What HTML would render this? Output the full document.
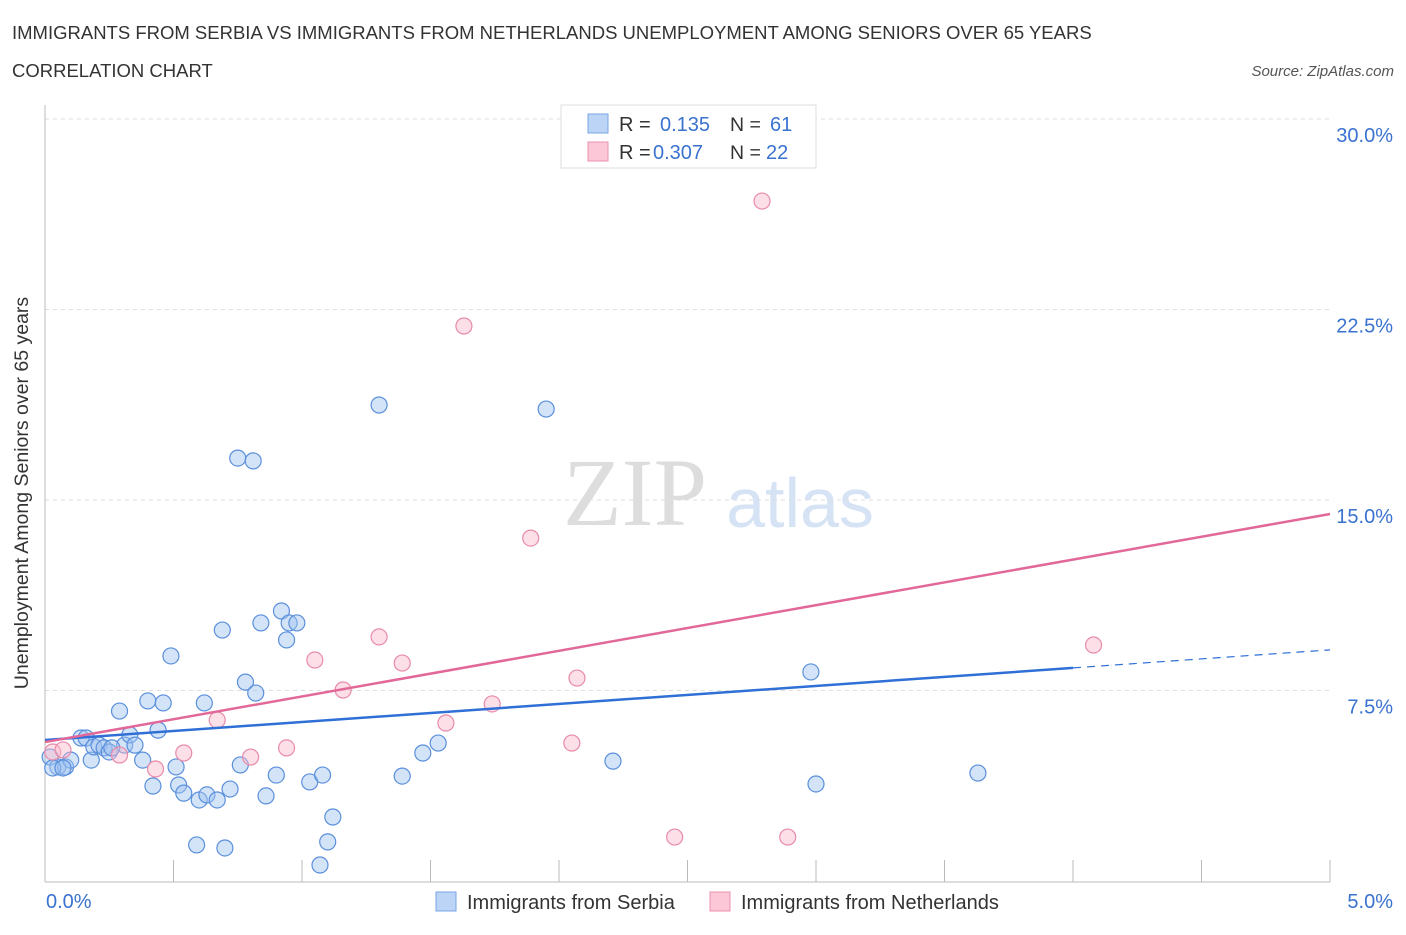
<!DOCTYPE html>
<html><head><meta charset="utf-8"><style>
body{margin:0;background:#fff;font-family:"Liberation Sans",sans-serif;}
</style></head><body>
<svg id="c" width="1406" height="930" xmlns="http://www.w3.org/2000/svg">
<text x="12" y="39" font-size="18.5" fill="#333">IMMIGRANTS FROM SERBIA VS IMMIGRANTS FROM NETHERLANDS UNEMPLOYMENT AMONG SENIORS OVER 65 YEARS</text>
<text x="12" y="77" font-size="18.5" fill="#333">CORRELATION CHART</text>
<text x="1394" y="76" font-size="15" fill="#555" font-style="italic" text-anchor="end">Source: ZipAtlas.com</text>
<text x="635" y="525" font-size="96" fill="#ddd" font-family="Liberation Serif" text-anchor="middle">ZIP</text>
<text x="800" y="527" font-size="70" fill="#d5e3f5" text-anchor="middle">atlas</text>
<g id="grid"></g><g id="axes"></g><g id="pts"></g><g id="lines"></g>
<text x="28" y="493" font-size="19.5" fill="#333" text-anchor="middle" transform="rotate(-90 28 493)">Unemployment Among Seniors over 65 years</text>
<g>
<rect x="561" y="105" width="255" height="63" fill="#fff" stroke="#ddd"/>
<rect x="588" y="114" width="20" height="19" fill="#bcd4f5" stroke="#7aa6e6"/>
<rect x="588" y="142" width="20" height="19" fill="#fcc8d8" stroke="#ec90ae"/>
<text x="619" y="131" font-size="20" fill="#333">R = </text><text x="660" y="131" font-size="20" fill="#3a72d0">0.135</text>
<text x="730" y="131" font-size="19.5" fill="#333">N = </text><text x="770" y="131" font-size="20" fill="#3a72d0">61</text>
<text x="619" y="159" font-size="20" fill="#333">R = </text><text x="653" y="159" font-size="20" fill="#3a72d0">0.307</text>
<text x="730" y="159" font-size="19.5" fill="#333">N = </text><text x="766" y="159" font-size="20" fill="#3a72d0">22</text>
</g>
<g>
<rect x="436" y="892" width="20" height="19" fill="#bcd4f5" stroke="#7aa6e6"/>
<text x="467" y="909" font-size="20" fill="#333">Immigrants from Serbia</text>
<rect x="710" y="892" width="20" height="19" fill="#fcc8d8" stroke="#ec90ae"/>
<text x="741" y="909" font-size="20" fill="#333">Immigrants from Netherlands</text>
</g>
</svg>
<script>
const serbiaX=[0.02,0.05,0.08,0.10,0.14,0.16,0.18,0.19,0.21,0.23,0.25,0.29,0.31,0.33,0.35,0.38,0.40,0.42,0.44,0.46,0.49,0.51,0.52,0.54,0.59,0.60,0.62,0.63,0.67,0.69,0.70,0.72,0.76,0.75,0.78,0.81,0.82,0.84,0.86,0.90,0.92,0.94,0.95,0.98,1.03,1.08,1.10,1.12,1.07,1.30,1.39,1.47,1.53,1.95,2.21,2.98,3.00,3.63,0.03,0.07,0.26];
const serbiaY=[4.88,4.49,4.49,4.76,5.63,5.63,4.76,5.28,5.35,5.24,5.08,6.69,5.35,5.75,5.35,4.76,7.09,3.74,5.94,7.01,8.86,4.49,3.78,3.46,1.42,3.19,7.01,3.39,3.19,9.88,1.30,3.62,4.57,16.65,7.83,16.54,7.40,10.16,3.35,4.17,10.63,9.49,10.16,10.16,3.90,4.17,1.54,2.52,0.63,18.74,4.13,5.04,5.43,18.58,4.72,8.23,3.82,4.25,4.45,4.45,5.24];
const nethX=[0.03,0.07,0.29,0.43,0.54,0.67,0.80,0.94,1.05,1.16,1.30,1.39,1.56,1.63,1.74,1.89,2.05,2.07,2.45,2.79,2.89,4.08];
const nethY=[5.08,5.16,4.96,4.41,5.04,6.34,4.88,5.24,8.70,7.52,9.61,8.58,6.22,21.85,6.97,13.50,5.43,7.99,1.73,26.77,1.73,9.29];
const yTicks=[7.5,15,22.5,30];
const yTickLabels=["7.5%","15.0%","22.5%","30.0%"];
const xTicks=[0,0.5,1,1.5,2,2.5,3,3.5,4,4.5,5];
const serbiaTrend=[5.55,9.1];
const nethTrend=[5.47,14.45];
const NS='http://www.w3.org/2000/svg';
const X=v=>45+v/5*1285, Y=v=>881-v*25.4;
function mk(p,t,a){const e=document.createElementNS(NS,t);for(const k in a)e.setAttribute(k,a[k]);document.getElementById(p).appendChild(e);return e;}
yTicks.forEach((t,i)=>{
 const g=mk('grid','line',{x1:45,x2:1330,y1:Y(t),y2:Y(t),stroke:'#ddd','stroke-dasharray':'4,4'});
 
 
 const l=mk('grid','text',{x:1393,y:Y(t)+23,'font-size':20,fill:'#3a72d0','text-anchor':'end'});
 l.textContent=yTickLabels[i];
 
 
});
const ax=mk('axes','line',{x1:45,x2:1330,y1:882,y2:882,stroke:'#bbb'});


const ay=mk('axes','line',{x1:45,x2:45,y1:105,y2:882,stroke:'#bbb'});


xTicks.forEach(t=>{
 const e=mk('axes','line',{x1:X(t),x2:X(t),y1:860,y2:882,stroke:'#bbb'});
 
 
});
const xl0=mk('axes','text',{x:46,y:908,'font-size':20,fill:'#3a72d0'});xl0.textContent='0.0%';


const xl1=mk('axes','text',{x:1393,y:908,'font-size':20,fill:'#3a72d0','text-anchor':'end'});xl1.textContent='5.0%';


serbiaX.forEach((x,i)=>{
 const c=mk('pts','circle',{cx:X(x),cy:Y(serbiaY[i]),r:8,fill:'rgba(160,195,240,0.45)',stroke:'#5a8fdc','stroke-width':1.2});
 
 
});
nethX.forEach((x,i)=>{
 const c=mk('pts','circle',{cx:X(x),cy:Y(nethY[i]),r:8,fill:'rgba(250,185,205,0.45)',stroke:'#e88aaa','stroke-width':1.2});
 
 
});
const sAt=x=>serbiaTrend[0]+(serbiaTrend[1]-serbiaTrend[0])*x/5;
const l1=mk('lines','line',{x1:X(0),y1:Y(sAt(0)),x2:X(4),y2:Y(sAt(4)),stroke:'#2f6fd6','stroke-width':2.5});


const l2=mk('lines','line',{x1:X(4),y1:Y(sAt(4)),x2:X(5),y2:Y(sAt(5)),stroke:'#2f6fd6','stroke-width':1.2,'stroke-dasharray':'8,6'});


const l3=mk('lines','line',{x1:X(0),y1:Y(nethTrend[0]),x2:X(5),y2:Y(nethTrend[1]),stroke:'#e2689a','stroke-width':2.5});


</script>
</body></html>
